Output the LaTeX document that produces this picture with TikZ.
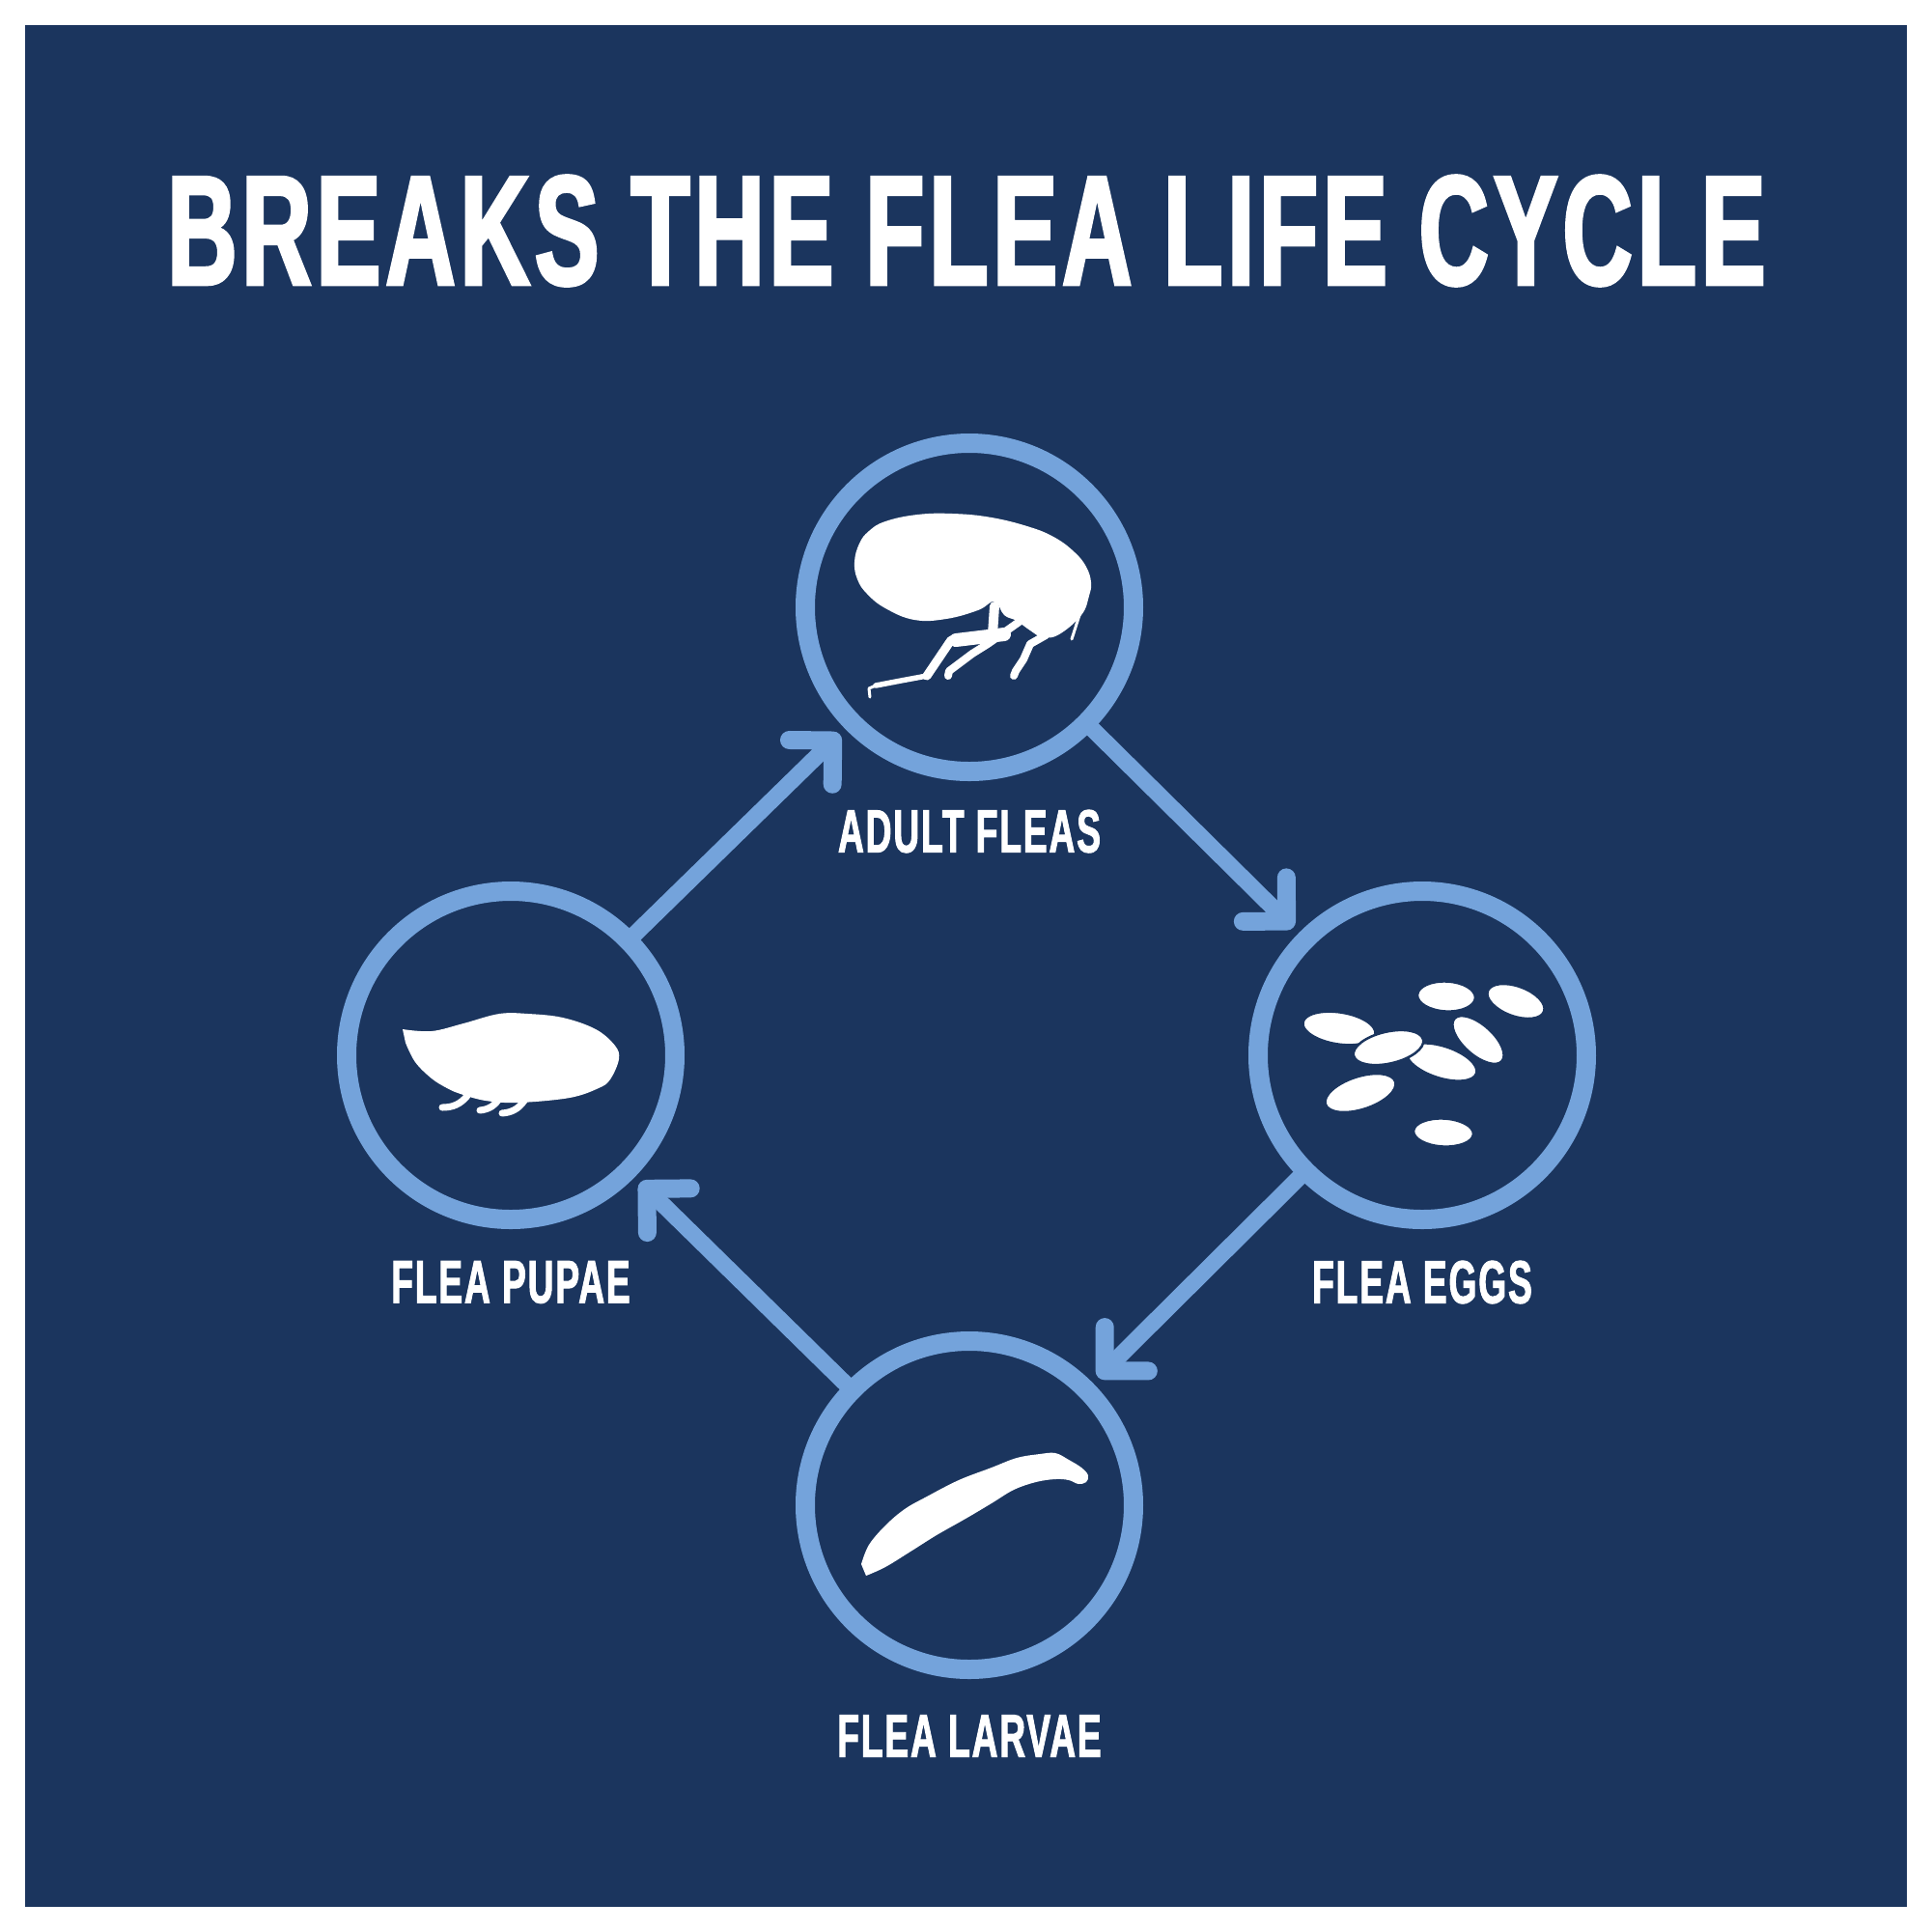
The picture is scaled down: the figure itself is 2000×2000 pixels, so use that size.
\documentclass[tikz,border=0pt]{standalone}
\usepackage{fontspec}
\usetikzlibrary{arrows.meta, calc}
\newfontfamily\titlefont{Liberation Sans}[FakeStretch=0.62, LetterSpace=3, BoldFeatures={FakeBold=2}]
\newfontfamily\labelfont{Liberation Sans}[FakeStretch=0.59, LetterSpace=3, BoldFeatures={FakeBold=1.5}]
\definecolor{navy}{HTML}{1B355E}
\definecolor{ringblue}{HTML}{74A3DB}

\begin{document}
\begin{tikzpicture}[x=0.1mm, y=-0.1mm,
	stage/.style={circle, draw=ringblue, line width=2mm, minimum size=34mm, inner sep=0pt},
	flow/.style={draw=ringblue, line width=1.7mm, -{Straight Barb[length=3.2mm, width=6.4mm, round, line width=1.9mm]}, shorten <=-0.5mm, shorten >=0.8mm},
	lbl/.style={text=white, inner sep=0pt, font=\labelfont\bfseries\fontsize{17.9pt}{20pt}\selectfont},
	egg/.style={fill=white, draw=navy, line width=0.25mm},
	leg/.style={draw=white, line cap=round, line join=round}]
	\fill [white] (0,0) rectangle (2000,2000);
	\fill [navy] (26,26) rectangle (1975,1975);
	\node [text=white, inner sep=0pt, font=\titlefont\bfseries\fontsize{46pt}{50pt}\selectfont] (title) at (1001,239) {BREAKS THE FLEA LIFE CYCLE};
	\node [stage] (adult) at (1004,629) {};
	\node [stage] (eggs) at (1473,1093) {};
	\node [stage] (larvae) at (1004,1559) {};
	\node [stage] (pupae) at (529,1093) {};
	\node [lbl] (adultlbl) at (1004,861) {ADULT FLEAS};
	\node [lbl] (eggslbl) at (1473,1328) {FLEA EGGS};
	\node [lbl] (larvaelbl) at (1004,1798) {FLEA LARVAE};
	\node [lbl] (pupaelbl) at (529,1328) {FLEA PUPAE};
	\draw [flow] (pupae) -- (adult);
	\draw [flow] (adult) -- (eggs);
	\draw [flow] (eggs) -- (larvae);
	\draw [flow] (larvae) -- (pupae);
	\fill [white] plot [smooth cycle, tension=0.7] coordinates {(885,582) (890,563) (900,550) (917,540) (950,533) (987,532) (1027,536) (1067,546) (1093,557) (1113,572) (1125,587) (1130,603) (1128,617) (1120,637) (1097,657) (1080,660) (1067,653) (1053,643) (1040,637) (1030,623) (1013,632) (980,641) (947,642) (917,630) (898,615) (888,600)};
	\draw [leg, line width=1mm] (1030,628) -- (1028,657);
	\draw [leg, line width=1.4mm] (1040,657) -- (990,663);
	\draw [leg, line width=0.9mm] (985,663) -- (960,700);
	\draw [leg, line width=0.55mm] (960,700) -- (933,705) -- (907,710);
	\draw [leg, line width=0.3mm] (907,710) -- (900,713) -- (901,722);
	\draw [leg, line width=0.8mm] (1057,643) -- (1023,667) -- (1007,677) -- (983,695) -- (982,700);
	\draw [leg, line width=0.8mm] (1077,647) -- (1083,658) -- (1067,667) -- (1060,683) -- (1052,695) -- (1050,700);
	\draw [leg, line width=0.3mm] (1118,637) -- (1110,662);
	\fill [egg] (1387,1065) ellipse [x radius=38, y radius=16.5, rotate=-9];
	\fill [egg] (1493,1100) ellipse [x radius=38, y radius=16.5, rotate=-18];
	\fill [egg] (1438,1085) ellipse [x radius=37, y radius=16.5, rotate=13];
	\fill [egg] (1498,1032) ellipse [x radius=30, y radius=15.5, rotate=-3];
	\fill [egg] (1570,1037) ellipse [x radius=31, y radius=15.5, rotate=-20];
	\fill [egg] (1531,1077) ellipse [x radius=33, y radius=15.5, rotate=-42];
	\fill [egg] (1409,1132) ellipse [x radius=38, y radius=17, rotate=18];
	\fill [egg] (1495,1173) ellipse [x radius=31, y radius=14.5, rotate=-3];
	\fill [white] plot [smooth, tension=0.6] coordinates {(892,1620) (900,1600) (917,1580) (937,1563) (960,1550) (993,1533) (1027,1520) (1053,1510) (1077,1506) (1093,1505) (1107,1512) (1120,1520) (1127,1528) (1125,1535) (1117,1537) (1107,1533) (1093,1532) (1073,1535) (1050,1543) (1027,1557) (1000,1573) (970,1590) (943,1607) (917,1623) (897,1632)} -- cycle;
	\fill [white] plot [smooth, tension=0.6] coordinates {(417,1066) (447,1068) (480,1060) (517,1050) (547,1050) (583,1054) (617,1066) (637,1083) (641,1097) (632,1118) (620,1127) (590,1137) (537,1142) (503,1140) (477,1133) (463,1127) (447,1117) (430,1100) (420,1080)} -- cycle;
	\draw [leg, line width=0.7mm] (458,1147) to [bend right=25] (484,1135);
	\draw [leg, line width=0.7mm] (497,1150) to [bend right=25] (517,1138);
	\draw [leg, line width=0.7mm] (520,1153) to [bend right=25] (543,1140);
\end{tikzpicture}
\end{document}
